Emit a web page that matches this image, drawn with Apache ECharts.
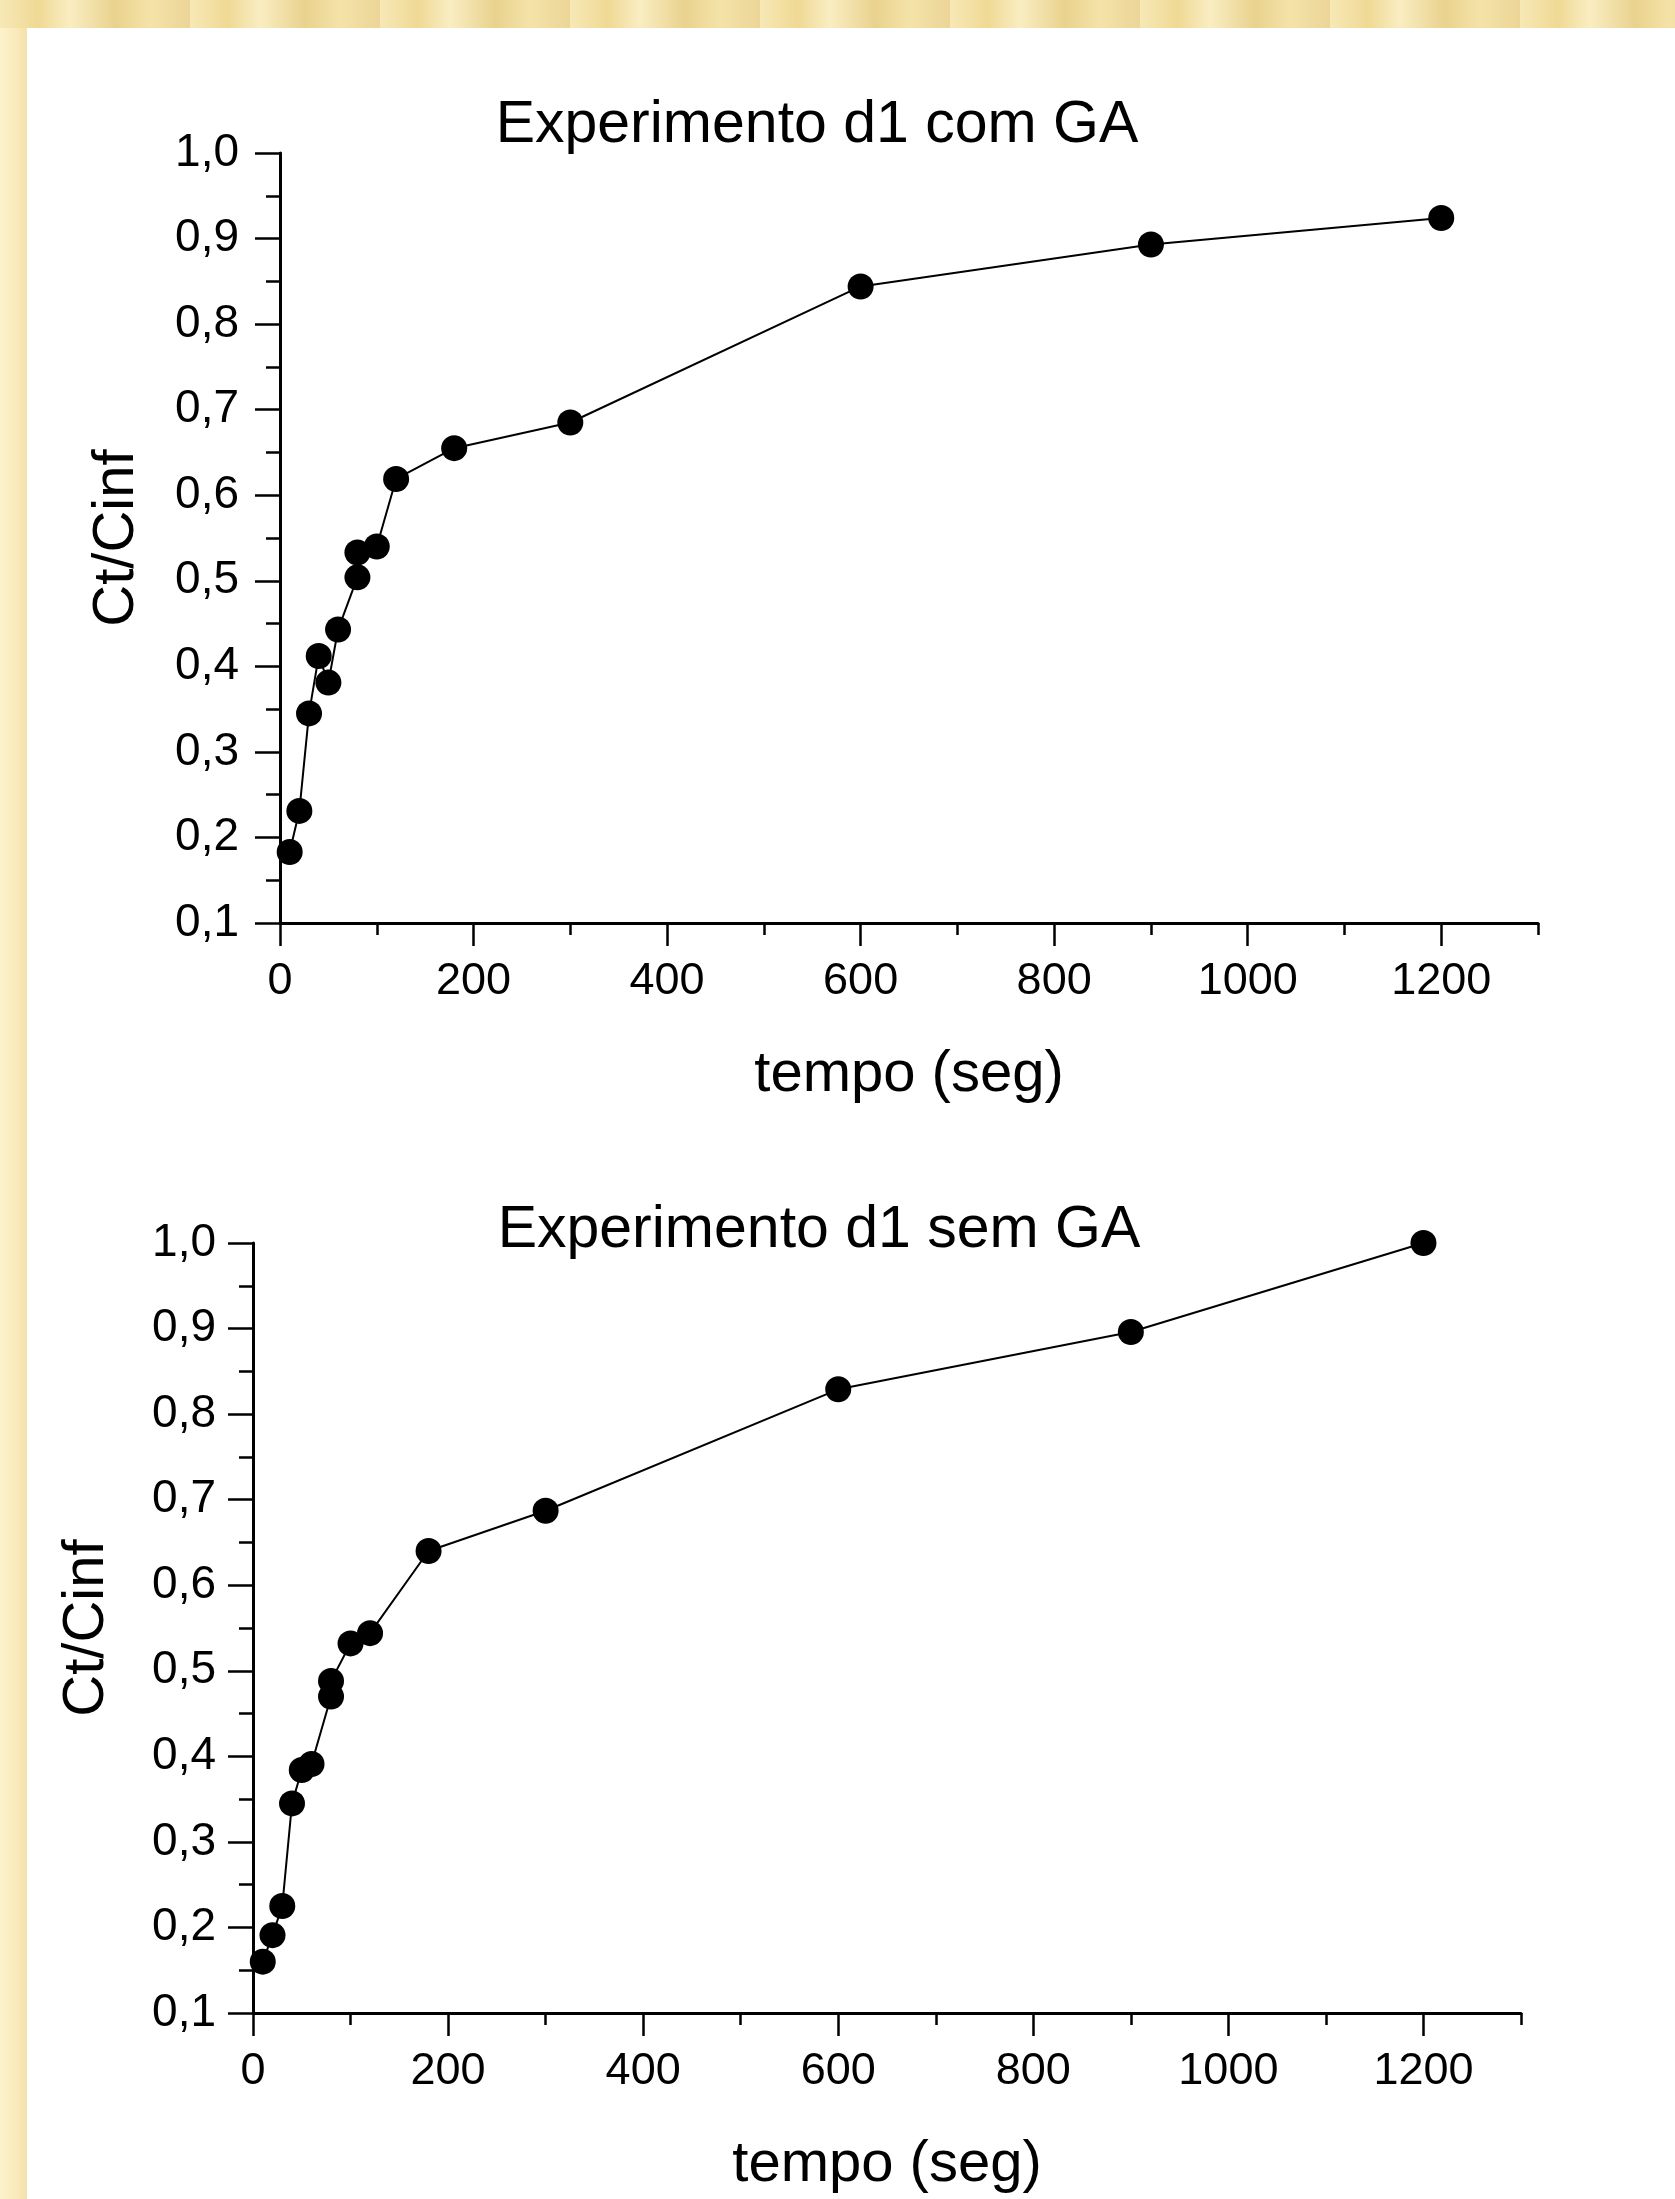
<!DOCTYPE html>
<html><head><meta charset="utf-8">
<script src="https://cdn.jsdelivr.net/npm/echarts@6/dist/echarts.min.js"></script>
<style>
html,body{margin:0;padding:0;width:1675px;height:2199px;overflow:hidden;}
body{background:repeating-linear-gradient(90deg,#f7e8b6 0px,#efd994 38px,#f9edc2 70px,#e9d28e 115px,#f4e3a8 150px,#ecd597 190px);}
#left{position:absolute;left:0;top:28px;width:27px;bottom:0;background:linear-gradient(90deg,#fdf2cc,#f9eabb 60%,#f4e1aa);}
#panel{position:absolute;left:27px;top:28px;right:0;bottom:0;background:#fff;}
#chart{position:absolute;left:0;top:0;width:1675px;height:2199px;}
</style></head>
<body><div id="left"></div><div id="panel"></div><div id="chart"></div>
<script>
// ---- data ----
const titleTop = 'Experimento d1 com GA';
const titleBottom = 'Experimento d1 sem GA';
const xName = 'tempo (seg)';
const yName = 'Ct/Cinf';
const timeCom = [10, 20, 30, 40, 50, 60, 80, 80, 100, 120, 180, 300, 600, 900, 1200];
const ratioCom = [0.183, 0.231, 0.345, 0.412, 0.381, 0.443, 0.504, 0.533, 0.540, 0.619, 0.655, 0.685, 0.844, 0.893, 0.924];
const timeSem = [10, 20, 30, 40, 50, 60, 80, 80, 100, 120, 180, 300, 600, 900, 1200];
const ratioSem = [0.160, 0.191, 0.225, 0.345, 0.384, 0.391, 0.470, 0.488, 0.532, 0.544, 0.640, 0.687, 0.829, 0.896, 1.000];
const xTicks = [0, 200, 400, 600, 800, 1000, 1200];
const yTicks = [0.1, 0.2, 0.3, 0.4, 0.5, 0.6, 0.7, 0.8, 0.9, 1.0];

// ---- styling ----
const font = "'Liberation Sans', Arial, Helvetica, sans-serif";
const ink = '#000';
const axisLineStyle = {color: ink, width: 3};
const tickStyle = {color: ink, width: 2.5};

function xAxesFor(g) {
  return [
    {
      type: 'value', gridIndex: g, position: 'bottom', min: 0, max: 1300, interval: 100,
      axisLine: {show: true, lineStyle: axisLineStyle},
      axisTick: {show: true, length: 12, lineStyle: tickStyle},
      axisLabel: {show: false}, splitLine: {show: false},
      name: xName, nameLocation: 'middle', nameGap: 123,
      nameTextStyle: {fontSize: 58, color: ink, fontFamily: font}
    },
    {
      type: 'value', gridIndex: g, position: 'bottom', min: 0, max: 1300, interval: 200,
      axisLine: {show: false},
      axisTick: {show: true, length: 23, customValues: xTicks, lineStyle: tickStyle},
      axisLabel: {show: true, customValues: xTicks, margin: 36, fontSize: 45, color: ink, fontFamily: font,
        formatter: v => String(v)},
      splitLine: {show: false}
    }
  ];
}
function yAxisFor(g, margin, nameGap) {
  return {
    type: 'value', gridIndex: g, min: 0.1, max: 1.0, interval: 0.1,
    axisLine: {show: true, onZero: false, lineStyle: axisLineStyle},
    axisTick: {show: true, length: 25, lineStyle: tickStyle},
    minorTick: {show: true, splitNumber: 2, length: 14, lineStyle: tickStyle},
    splitLine: {show: false}, minorSplitLine: {show: false},
    axisLabel: {show: true, customValues: yTicks, margin: margin, fontSize: 46, color: ink, fontFamily: font,
      formatter: v => v.toFixed(1).replace('.', ',')},
    name: yName, nameLocation: 'middle', nameGap: nameGap,
    nameTextStyle: {fontSize: 58, color: ink, fontFamily: font}
  };
}
function series(xi, yi, xs, ys) {
  return {
    type: 'line', xAxisIndex: xi, yAxisIndex: yi,
    data: xs.map((t, i) => [t, ys[i]]),
    symbol: 'circle', symbolSize: 26, showAllSymbol: true,
    itemStyle: {color: ink}, lineStyle: {color: ink, width: 2},
    clip: false, animation: false
  };
}

const chart = echarts.init(document.getElementById('chart'), null, {renderer: 'canvas'});
chart.setOption({
  backgroundColor: 'transparent',
  animation: false,
  title: [
    {text: titleTop, left: 812, top: 91, textAlign: 'center',
      textStyle: {fontSize: 59, fontWeight: 'normal', color: ink, fontFamily: font}},
    {text: titleBottom, left: 814, top: 1196, textAlign: 'center',
      textStyle: {fontSize: 59, fontWeight: 'normal', color: ink, fontFamily: font}}
  ],
  grid: [
    {left: 280, top: 153, width: 1258, height: 770},
    {left: 253, top: 1243, width: 1268, height: 770}
  ],
  xAxis: [].concat(xAxesFor(0), xAxesFor(1)),
  yAxis: [yAxisFor(0, 41, 134), yAxisFor(1, 37, 137)],
  series: [
    series(0, 0, timeCom, ratioCom),
    series(2, 1, timeSem, ratioSem)
  ]
});
</script></body></html>
